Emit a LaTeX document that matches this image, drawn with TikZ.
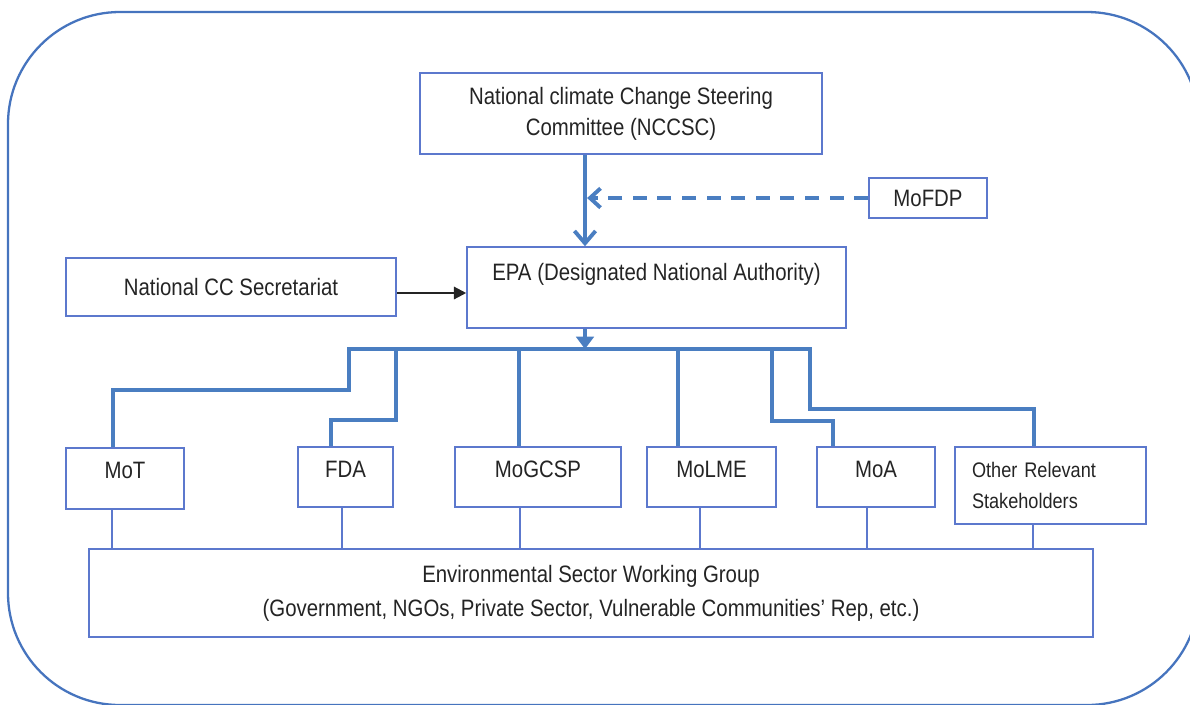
\documentclass[tikz,border=0pt]{standalone}
\usepackage{fontspec}
\setmainfont{Liberation Sans}[FakeStretch=0.86]
\usepackage{tikz}
\usetikzlibrary{arrows.meta,calc,positioning}
\definecolor{line-blue}{RGB}{74,126,193}
\definecolor{box-blue}{RGB}{92,120,205}
\definecolor{frame-blue}{RGB}{70,116,190}
\definecolor{ink}{RGB}{36,36,36}
\tikzset{
  box/.style={draw=box-blue, line width=0.9pt, text=ink, inner sep=0pt, align=center,
    font=\fontsize{13.5}{17.6}\selectfont},
  unit/.style={text height=0.35cm, text depth=0.35cm},
  link/.style={draw=line-blue, line width=2.4pt},
  feed/.style={link, -{Straight Barb[length=7pt,width=12pt,line width=2.2pt]}},
  report/.style={draw=line-blue, line width=2.4pt, dash pattern=on 8pt off 6pt,
    -{Straight Barb[length=6pt,width=11pt,line width=2.2pt]}},
  tie/.style={draw=box-blue, line width=0.7pt}
}
\begin{document}
\begin{tikzpicture}[x=0.02cm, y=-0.02cm]
  \useasboundingbox (0,0) rectangle (1190,704);
  \clip (0,0) rectangle (1190,704);
  \draw[draw=frame-blue, line width=1.3pt, rounded corners=2.24cm] (8,12) rectangle (1199,705);

  % top of the chart
  \node[box, minimum width=8.04cm, minimum height=1.62cm] (nccsc) at (621,113.5)
    {National climate Change Steering\\Committee (NCCSC)};
  \node[box, minimum width=2.36cm, minimum height=0.8cm] (mofdp) at (928,198) {MoFDP};
  \node[box, minimum width=7.58cm, minimum height=1.62cm, text height=0.35cm, text depth=0.63cm]
    (epa) at (656.5,287.5) {EPA (Designated National Authority)};
  \node[box, minimum width=6.6cm, minimum height=1.16cm] (sec) at (231,287) {National CC Secretariat};
  \coordinate (spine) at (585,349);

  % ministries
  \node[box, unit, minimum width=2.36cm, minimum height=1.22cm] (mot) at (125,478.5) {MoT};
  \node[box, unit, minimum width=1.9cm, minimum height=1.2cm] (fda) at (345.5,477) {FDA};
  \node[box, unit, minimum width=3.32cm, minimum height=1.2cm] (mogcsp) at (538,477) {MoGCSP};
  \node[box, unit, minimum width=2.58cm, minimum height=1.2cm] (molme) at (711.5,477) {MoLME};
  \node[box, unit, minimum width=2.36cm, minimum height=1.2cm] (moa) at (876,477) {MoA};
  \node[box, minimum width=3.82cm, minimum height=1.54cm, text width=3.14cm, align=left,
    font=\fontsize{12}{17.6}\selectfont] (other) at (1050.5,485.5) {Other Relevant\\Stakeholders};

  \node[box, minimum width=20.08cm, minimum height=1.76cm, font=\fontsize{13.5}{19.3}\selectfont]
    (eswg) at (591,593)
    {Environmental Sector Working Group\\(Government, NGOs, Private Sector, Vulnerable Communities’ Rep, etc.)};

  % connectors
  \draw[feed] (nccsc.south -| spine) -- (epa.north -| spine);
  \draw[report, shorten >=1.2pt] (mofdp.west) -- (mofdp.west -| spine);
  \draw[draw=ink, line width=1.2pt, -{Triangle[length=7pt,width=7pt]}]
    ([yshift=-0.12cm]sec.east) -- ([yshift=-0.12cm]sec.east -| epa.west);
  \draw[link, -{Triangle[length=7pt,width=10pt]}] (epa.south -| spine) -- (spine);

  \draw[link] (mot.north -| 113,0) |- (349,390) |- (spine);
  \draw[link] (fda.north -| 331,0) |- (396,420) |- (spine);
  \draw[link] (mogcsp.north -| 519,0) -- (spine -| 519,0);
  \draw[link] (molme.north -| 678,0) -- (spine -| 678,0);
  \draw[link] (moa.north -| 833,0) |- (772,421) -- (spine -| 772,0);
  \draw[link] (other.north -| 1034,0) |- (810,409) |- (spine);

  \foreach \n/\x in {mot/112, fda/342, mogcsp/520, molme/700, moa/867, other/1033}
    \draw[tie] (\n.south -| \x,0) -- (eswg.north -| \x,0);
\end{tikzpicture}
\end{document}
